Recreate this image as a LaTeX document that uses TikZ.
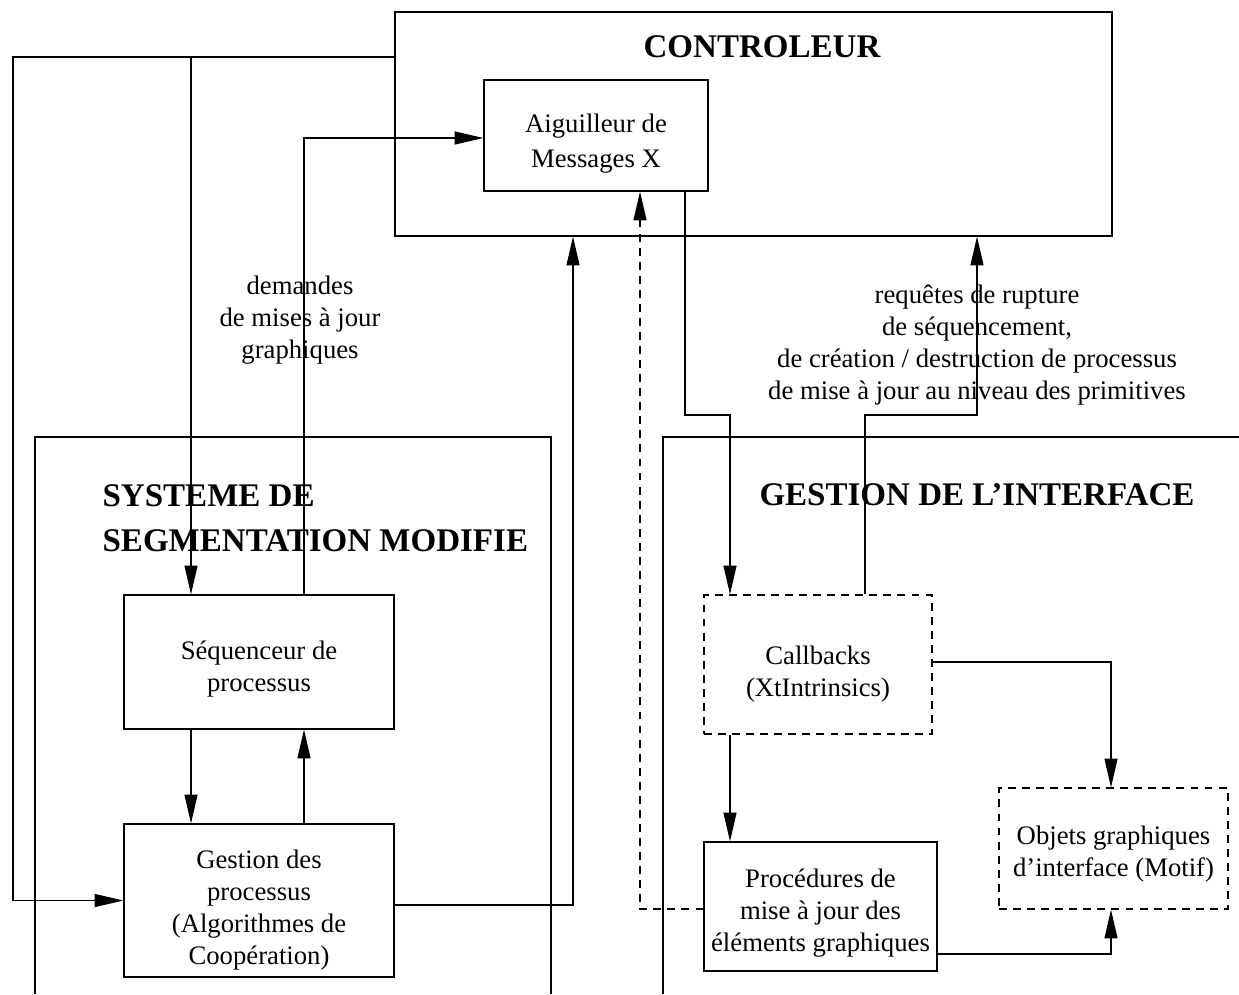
\documentclass[tikz,border=0pt]{standalone}
\usepackage{fontspec}
\setmainfont{Liberation Serif}
\usepackage{tikz}
\usetikzlibrary{arrows.meta}

\begin{document}
\begin{tikzpicture}[x=0.02cm, y=-0.02cm, line width=0.7pt,
		bloc/.style={draw, inner sep=0pt},
		pointille/.style={dash pattern=on 4.5pt off 3.5pt},
		titre/.style={inner sep=0pt, font=\fontsize{18.8}{25.6}\selectfont\bfseries},
		texte/.style={inner sep=0pt, align=center, font=\fontsize{15.2}{18.2}\selectfont},
		>={Triangle[length=16.4pt, width=7.4pt]}]
			\useasboundingbox (0,0) rectangle (1239,994);
			
			\draw (35,994) -- (35,437) -- (551,437) -- (551,994);
			\draw (663,994) -- (663,437) -- (1239,437);
			
			\node[bloc, minimum width=14.34cm, minimum height=4.48cm] (ctrl) at (753.5,124) {};
			\node[bloc, minimum width=4.48cm, minimum height=2.22cm] (aig) at (596,135.5) {};
			\node[bloc, minimum width=5.4cm, minimum height=2.68cm] (seq) at (259,662) {};
			\node[bloc, minimum width=5.4cm, minimum height=3.06cm] (gest) at (259,900.5) {};
			\node[bloc, pointille, minimum width=4.56cm, minimum height=2.78cm] (cb) at (818,664.5) {};
			\node[bloc, pointille, minimum width=4.58cm, minimum height=2.42cm] (obj) at (1113.5,848.5) {};
			\node[bloc, minimum width=4.66cm, minimum height=2.58cm] (proc) at (820.5,906.5) {};
			
			\node[texte] (aigtexte) at ([yshift=-4.5pt]aig.center) {Aiguilleur de\\[2pt]Messages X};
			\node[texte] (seqtexte) at ([yshift=-4pt]seq.center) {Séquenceur de\\processus};
			\node[texte] (gesttexte) at ([yshift=-5.5pt]gest.center) {Gestion des\\processus\\(Algorithmes de\\Coopération)};
			\node[texte] (cbtexte) at ([yshift=-5.5pt]cb.center) {Callbacks\\(XtIntrinsics)};
			\node[texte] (objtexte) at ([yshift=-3pt]obj.center) {Objets graphiques\\d’interface (Motif)};
			\node[texte] (proctexte) at ([yshift=-4pt]proc.center) {Procédures de\\mise à jour des\\éléments graphiques};
			
			\node[titre] (ctrltitre) at (762,47) {CONTROLEUR};
			\node[titre, anchor=west, align=left] (systitre) at (102,518.5) {SYSTEME DE\\SEGMENTATION MODIFIE};
			\node[titre] (gititre) at (977,495) {GESTION DE L’INTERFACE};
			\node[texte] (demandes) at (300,320) {demandes\\de mises à jour\\graphiques};
			\node[texte] (requetes) at (977,345) {requêtes de rupture\\de séquencement,\\de création / destruction de processus\\de mise à jour au niveau des primitives};
			
			\foreach \nom/\x/\y in {
				hautg/13/57,
				seqin/191/57,
				dem/304/138,
				gc/573/905,
				ac1/685/415,
				ac2/730/415,
				cc1/865/415,
				cc2/977/415,
				co/1111/662,
				po/1111/954,
				pa/640/909
			}{
				\coordinate (\nom) at (\x,\y);
			}
			
			\draw[->] (ctrl.west |- hautg) -- (hautg) |- (gest.west);
			\draw[->] (seqin) -- (seq.north -| seqin);
			\draw[->] (seq.north -| dem) -- (dem) -- (aig.west |- dem);
			\draw[->] (seq.south -| seqin) -- (gest.north -| seqin);
			\draw[->] (gest.north -| dem) -- (seq.south -| dem);
			\draw[->] (gest.east |- gc) -| (ctrl.south -| gc);
			\draw[->] (aig.south -| ac1) -- (ac1) -- (ac2) -- (cb.north -| ac2);
			\draw[->] (cb.north -| cc1) -- (cc1) -- (cc2) -- (ctrl.south -| cc2);
			\draw[->] (cb.east |- co) -| (obj.north -| co);
			\draw[->] (cb.south -| ac2) -- (proc.north -| ac2);
			\draw[->] (proc.east |- po) -| (obj.south -| po);
			\draw[->, pointille] (proc.west |- pa) -- (pa) -- (aig.south -| pa);
		\end{tikzpicture}
\end{document}
